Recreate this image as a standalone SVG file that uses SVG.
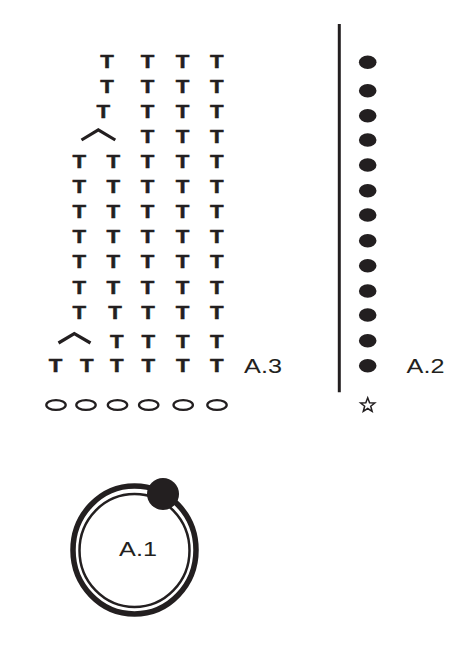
<svg xmlns="http://www.w3.org/2000/svg" width="470" height="650" viewBox="0 0 470 650">
<style>
.t{font-family:"Liberation Sans",Arial,sans-serif;font-weight:bold;font-size:17.5px;fill:#231f20;stroke:#231f20;stroke-width:0.45;text-anchor:middle;transform-box:fill-box;transform-origin:center;transform:scaleX(1.27)}
.lbl{font-family:"Liberation Sans",Arial,sans-serif;font-size:21px;fill:#231f20;text-anchor:middle;transform-box:fill-box;transform-origin:center;transform:scaleX(1.2)}
.dec{fill:none;stroke:#231f20;stroke-width:3.2}
.ch{fill:none;stroke:#231f20;stroke-width:2.3}
.dot{fill:#231f20}
</style>
<rect width="470" height="650" fill="#fff"/>
<g id="a3">
<g id="a3-r1"><text class="t" x="107" y="68.2">T</text><text class="t" x="147.5" y="68.2">T</text><text class="t" x="182.5" y="68.2">T</text><text class="t" x="216.7" y="68.2">T</text></g>
<g id="a3-r2"><text class="t" x="107" y="93.2">T</text><text class="t" x="147.5" y="93.2">T</text><text class="t" x="182.5" y="93.2">T</text><text class="t" x="216.7" y="93.2">T</text></g>
<g id="a3-r3"><text class="t" x="103.3" y="118.2">T</text><text class="t" x="147.5" y="118.2">T</text><text class="t" x="182.5" y="118.2">T</text><text class="t" x="216.7" y="118.2">T</text></g>
<g id="a3-r4"><polyline class="dec" points="81.5,140 98.3,129.8 115.3,140"/><text class="t" x="147.5" y="143.3">T</text><text class="t" x="182.5" y="143.3">T</text><text class="t" x="216.7" y="143.3">T</text></g>
<g id="a3-r5"><text class="t" x="79.3" y="168.5">T</text><text class="t" x="113.3" y="168.5">T</text><text class="t" x="147.5" y="168.5">T</text><text class="t" x="182.5" y="168.5">T</text><text class="t" x="216.7" y="168.5">T</text></g>
<g id="a3-r6"><text class="t" x="79.3" y="193.5">T</text><text class="t" x="113.3" y="193.5">T</text><text class="t" x="147.5" y="193.5">T</text><text class="t" x="182.5" y="193.5">T</text><text class="t" x="216.7" y="193.5">T</text></g>
<g id="a3-r7"><text class="t" x="79.3" y="218.5">T</text><text class="t" x="113.3" y="218.5">T</text><text class="t" x="147.5" y="218.5">T</text><text class="t" x="182.5" y="218.5">T</text><text class="t" x="216.7" y="218.5">T</text></g>
<g id="a3-r8"><text class="t" x="79.3" y="243.5">T</text><text class="t" x="113.3" y="243.5">T</text><text class="t" x="147.5" y="243.5">T</text><text class="t" x="182.5" y="243.5">T</text><text class="t" x="216.7" y="243.5">T</text></g>
<g id="a3-r9"><text class="t" x="79.3" y="268.5">T</text><text class="t" x="113.3" y="268.5">T</text><text class="t" x="147.5" y="268.5">T</text><text class="t" x="182.5" y="268.5">T</text><text class="t" x="216.7" y="268.5">T</text></g>
<g id="a3-r10"><text class="t" x="79.3" y="294.2">T</text><text class="t" x="113.3" y="294.2">T</text><text class="t" x="147.5" y="294.2">T</text><text class="t" x="182.5" y="294.2">T</text><text class="t" x="216.7" y="294.2">T</text></g>
<g id="a3-r11"><text class="t" x="79.3" y="319.2">T</text><text class="t" x="115" y="319.2">T</text><text class="t" x="148" y="319.2">T</text><text class="t" x="182.5" y="319.2">T</text><text class="t" x="216.7" y="319.2">T</text></g>
<g id="a3-r12"><polyline class="dec" points="58.5,343 74.3,333.6 90.5,343"/><text class="t" x="116.7" y="347.6">T</text><text class="t" x="148.3" y="347.6">T</text><text class="t" x="182.7" y="347.6">T</text><text class="t" x="216.7" y="347.6">T</text></g>
<g id="a3-r13"><text class="t" x="55.5" y="372">T</text><text class="t" x="86.7" y="372">T</text><text class="t" x="116.7" y="372">T</text><text class="t" x="148.3" y="372">T</text><text class="t" x="182.7" y="372">T</text><text class="t" x="216.7" y="372">T</text></g>
<g id="a3-chain">
<ellipse class="ch" cx="56" cy="405" rx="9.7" ry="4.9"/>
<ellipse class="ch" cx="86" cy="405" rx="9.7" ry="4.9"/>
<ellipse class="ch" cx="117.5" cy="405" rx="9.7" ry="4.9"/>
<ellipse class="ch" cx="148.7" cy="405" rx="9.7" ry="4.9"/>
<ellipse class="ch" cx="183.2" cy="405" rx="9.7" ry="4.9"/>
<ellipse class="ch" cx="217" cy="405" rx="9.7" ry="4.9"/>
</g>
<text class="lbl" x="263" y="373.3">A.3</text>
</g>
<g id="connectors">
<line x1="339.3" y1="24" x2="339.3" y2="392.3" stroke="#231f20" stroke-width="3"/>
</g>
<g id="a2">
<ellipse class="dot" cx="367.7" cy="62.3" rx="8.8" ry="6.8"/>
<ellipse class="dot" cx="367.7" cy="90.7" rx="8.8" ry="6.8"/>
<ellipse class="dot" cx="367.7" cy="115.7" rx="8.8" ry="6.8"/>
<ellipse class="dot" cx="367.7" cy="140" rx="8.8" ry="6.8"/>
<ellipse class="dot" cx="367.7" cy="165" rx="8.8" ry="6.8"/>
<ellipse class="dot" cx="367.7" cy="190.7" rx="8.8" ry="6.8"/>
<ellipse class="dot" cx="367.7" cy="215" rx="8.8" ry="6.8"/>
<ellipse class="dot" cx="367.7" cy="240.7" rx="8.8" ry="6.8"/>
<ellipse class="dot" cx="367.7" cy="265.7" rx="8.8" ry="6.8"/>
<ellipse class="dot" cx="367.7" cy="291" rx="8.8" ry="6.8"/>
<ellipse class="dot" cx="367.7" cy="315" rx="8.8" ry="6.8"/>
<ellipse class="dot" cx="367.7" cy="340.7" rx="8.8" ry="6.8"/>
<ellipse class="dot" cx="367.7" cy="365.7" rx="8.8" ry="6.8"/>
<polygon transform="translate(367.7,405.3)" points="0,-7.5 1.881,-2.589 7.133,-2.318 3.043,0.989 4.408,6.068 0,3.2 -4.408,6.068 -3.043,0.989 -7.133,-2.318 -1.881,-2.589" fill="#fff" stroke="#231f20" stroke-width="1.5" stroke-linejoin="miter"/>
<text class="lbl" x="425.5" y="373.3">A.2</text>
</g>
<g id="a1">
<ellipse cx="134.5" cy="550" rx="61.5" ry="64" fill="none" stroke="#231f20" stroke-width="5.5"/>
<ellipse cx="134.5" cy="550.5" rx="55" ry="56.5" fill="none" stroke="#231f20" stroke-width="2.5"/>
<circle cx="163" cy="494" r="16" fill="#231f20"/>
<text class="lbl" x="138" y="556.5">A.1</text>
</g>
</svg>
